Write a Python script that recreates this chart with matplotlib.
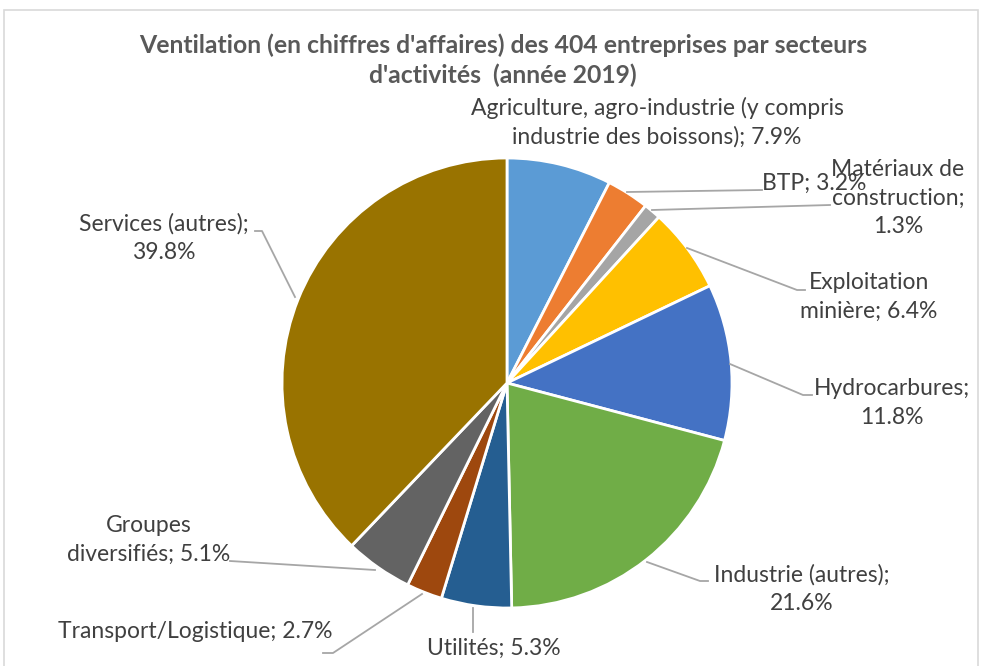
import matplotlib.pyplot as plt
from matplotlib.patches import Rectangle

plt.rcParams['font.family'] = ['Lato', 'DejaVu Sans']

# DATA
secteurs = ["Agriculture, agro-industrie (y compris\nindustrie des boissons)", "BTP",
            "Matériaux de\nconstruction", "Exploitation\nminière", "Hydrocarbures",
            "Industrie (autres)", "Utilités", "Transport/Logistique",
            "Groupes\ndiversifiés", "Services (autres)"]
parts = [7.9, 3.2, 1.3, 6.4, 11.8, 21.6, 5.3, 2.7, 5.1, 39.8]
couleurs = ['#5B9BD5', '#ED7D31', '#A5A5A5', '#FFC000', '#4472C4',
            '#70AD47', '#255E91', '#9E480E', '#636363', '#997300']
# separator between name and value ("; " or ";\n")
sep = ["; ", "; ", ";\n", "; ", ";\n", ";\n", "; ", "; ", "; ", ";\n"]

# label centres and leader lines, in pixels from the top-left corner
lab_xy = [(657, 122), (814, 183), (898, 198), (869, 297), (892, 403),
          (802, 589), (494, 648), (195, 632), (149, 540), (164, 238)]
leaders = [None,
           [(627, 192), (762, 190)],
           [(652, 210), (830, 205)],
           [(687, 248), (797, 290), (805, 290)],
           [(730, 364), (803, 395), (812, 395)],
           [(647, 562), (700, 581), (708, 581)],
           [(473, 608), (473, 632)],
           [(422, 594), (333, 653), (323, 653)],
           [(375, 570), (230, 561)],
           [(295, 297), (262, 231), (255, 231)]]

W, H = 990, 666
fig = plt.figure(figsize=(W / 100, H / 100), dpi=100)
ax = fig.add_axes([0, 0, 1, 1])

# chart frame
ax.add_patch(Rectangle((4, -20), 974, H - 10 + 20, fill=False,
                       edgecolor='#D9D9D9', linewidth=1.2))

ax.pie(parts, colors=couleurs, startangle=90, counterclock=False,
       center=(507, H - 383), radius=225, frame=True,
       wedgeprops=dict(edgecolor='white', linewidth=2))
ax.set_xlim(0, W)
ax.set_ylim(0, H)
ax.axis('off')

for name, v, s, (x, y), ld in zip(secteurs, parts, sep, lab_xy, leaders):
    ax.text(x, H - y, f"{name}{s}{v}%", ha='center', va='center',
            fontsize=16.5, color='#404040', linespacing=1.42)
    if ld:
        ax.plot([p[0] for p in ld], [H - p[1] for p in ld],
                color='#A6A6A6', linewidth=1.3)

ax.text(W / 2 + 8, H - 60, "Ventilation (en chiffres d'affaires) des 404 entreprises par secteurs\n"
        "d'activités  (année 2019)", ha='center', va='center', fontsize=17.8,
        fontweight='bold', color='#595959', linespacing=1.35)

fig.savefig('out.png', dpi=100)
